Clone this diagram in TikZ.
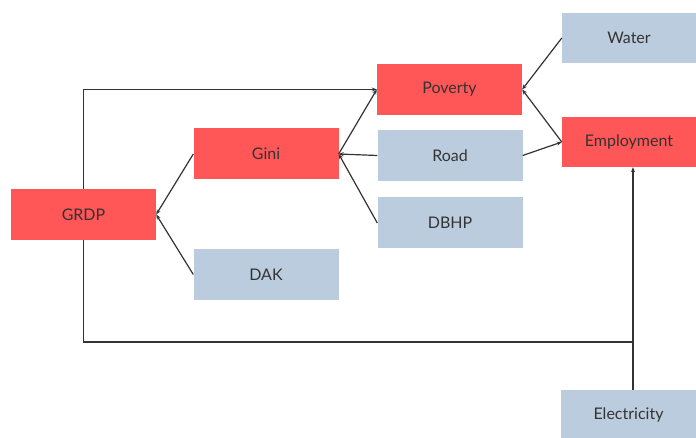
\documentclass[tikz,border=0pt]{standalone}
\usepackage{fontspec}
\setmainfont{Lato}
\usetikzlibrary{arrows.meta}
\definecolor{boxred}{HTML}{FF5657}
\definecolor{boxblue}{HTML}{BBCCDF}
\definecolor{linegray}{HTML}{333333}
\definecolor{textgray}{HTML}{333333}

\begin{document}
\begin{tikzpicture}[x=1pt,y=-1pt,
  box/.style={rectangle, inner sep=0pt, text=textgray, font=\fontsize{16}{18}\selectfont},
  redbox/.style={box, fill=boxred, minimum width=145pt, minimum height=51pt},
  bluebox/.style={box, fill=boxblue, minimum width=145pt, minimum height=51pt},
  arr/.style={draw, linegray, line width=1.2pt, -{Stealth[length=5pt,width=4pt]}},
  ln/.style={draw, linegray, line width=1.2pt}]
\useasboundingbox (0,0) rectangle (696,438);
\node[redbox] (grdp) at (83.5,214.5) {GRDP};
\node[redbox] (gini) at (266,154) {Gini};
\node[bluebox] (dak) at (266,274.5) {DAK};
\node[redbox] (poverty) at (449.5,89.5) {Poverty};
\node[bluebox] (road) at (450,155.5) {Road};
\node[bluebox] (dbhp) at (450,223) {DBHP};
\node[bluebox, minimum width=134pt, minimum height=50pt] (water) at (629,38) {Water};
\node[redbox, minimum width=134pt, minimum height=50pt] (employment) at (629,142) {Employment};
\node[bluebox, minimum width=135pt, minimum height=50pt] (electricity) at (628.5,415) {Electricity};
\coordinate (join) at (633,342);
\path[arr] (gini.west) -- (grdp.east);
\path[arr] (dak.west) -- (grdp.east);
\path[arr] (road.west) -- (gini.east);
\path[arr] (dbhp.west) -- (gini.east);
\path[arr] (gini.east) -- (poverty.west);
\path[arr] (grdp.north) |- (poverty.west);
\path[arr] (water.west) -- (poverty.east);
\path[arr] (employment.west) -- (poverty.east);
\path[arr] (road.east) -- (employment.west);
\path[ln] (grdp.south) |- (join);
\path[arr] (join |- electricity.north) -- (join |- employment.south);
\end{tikzpicture}
\end{document}
